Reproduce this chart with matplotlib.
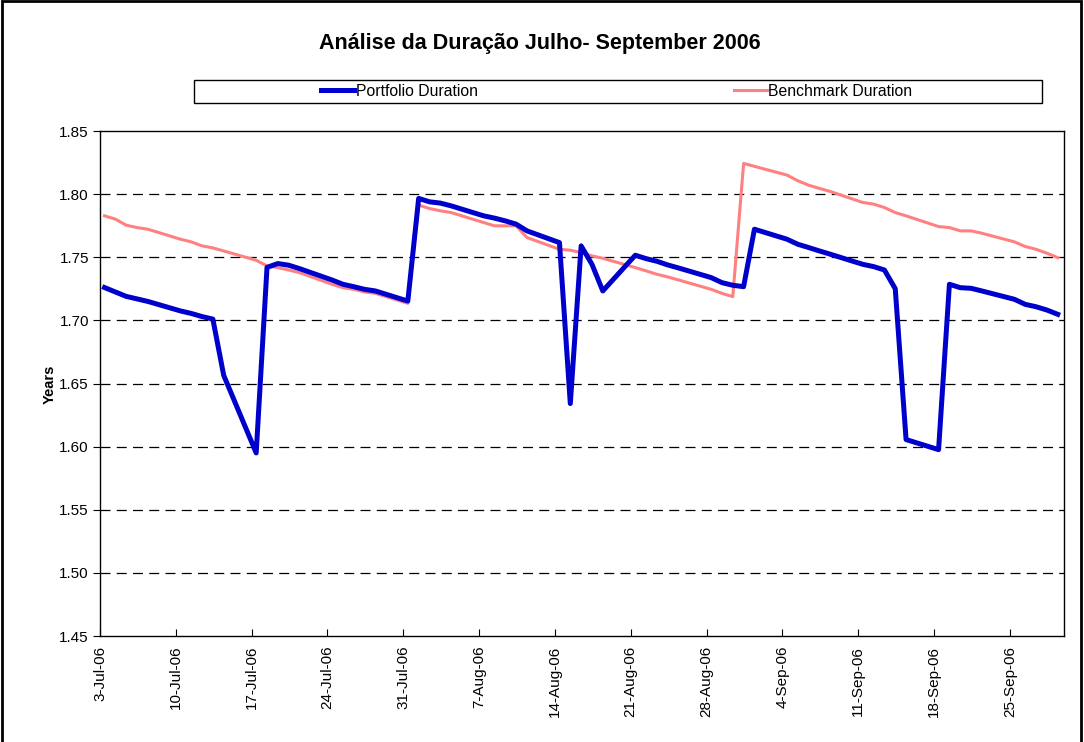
import matplotlib
matplotlib.use('Agg')
import matplotlib.pyplot as plt
import matplotlib.dates as mdates
import numpy as np
import pandas as pd
from matplotlib.patches import Rectangle
from matplotlib.ticker import FixedLocator, FuncFormatter

# business days, 3-Jul-06 .. 29-Sep-06 (one row per week)
dates = pd.bdate_range('2006-07-03', '2006-09-29')

portfolio = [
    1.726, 1.7225, 1.719, 1.717, 1.715,
    1.7075, 1.7055, 1.703, 1.701, 1.6565,
    1.595, 1.742, 1.745, 1.7437, 1.741,
    1.732, 1.7286, 1.7267, 1.7246, 1.7233,
    1.7153, 1.7966, 1.7939, 1.7929, 1.7907,
    1.7828, 1.781, 1.7788, 1.7762, 1.7709,
    1.7616, 1.6341, 1.759, 1.7444, 1.7233,
    1.7516, 1.7489, 1.7468, 1.7439, 1.7415,
    1.7339, 1.7299, 1.7278, 1.7267, 1.7722,
    1.7643, 1.7603, 1.7577, 1.755, 1.7524,
    1.7444, 1.7426, 1.7399, 1.7251, 1.6056,
    1.5976, 1.7286, 1.7259, 1.7254, 1.7233,
    1.7167, 1.7127, 1.7108, 1.7082, 1.7048,
]
benchmark = [
    1.7828, 1.7802, 1.7754, 1.7735, 1.7722,
    1.7643, 1.7622, 1.759, 1.7574, 1.755,
    1.7476, 1.7431, 1.7418, 1.7399, 1.7378,
    1.7286, 1.7259, 1.7246, 1.7225, 1.7214,
    1.7135, 1.7913, 1.7886, 1.7868, 1.7854,
    1.7775, 1.7749, 1.7749, 1.7749, 1.7656,
    1.7563, 1.7556, 1.7537, 1.7511, 1.7492,
    1.7418, 1.7392, 1.7365, 1.7344, 1.732,
    1.7246, 1.7214, 1.7188, 1.8243, 1.822,
    1.8151, 1.8106, 1.8071, 1.8045, 1.8021,
    1.7934, 1.7921, 1.7894, 1.7854, 1.7828,
    1.7743, 1.7735, 1.7709, 1.7709, 1.769,
    1.7622, 1.7585, 1.7563, 1.7532, 1.7497,
]
tickDates = pd.date_range('2006-07-03', '2006-09-25', freq='7D')
yTicks = [1.45, 1.50, 1.55, 1.60, 1.65, 1.70, 1.75, 1.80, 1.85]

plt.rcParams['font.family'] = ['Liberation Sans', 'DejaVu Sans']

fig = plt.figure(figsize=(10.84, 7.42), dpi=100)
ax = fig.add_axes([100/1084, 1 - 636/742, 964/1084, 505/742])

# Excel puts each point a little inside its day slot
x = mdates.date2num(dates.to_pydatetime()) + 0.42
ax.plot(x, benchmark, color='#FF8080', lw=2.2, solid_joinstyle='round', label='Benchmark Duration', zorder=3)
ax.plot(x, portfolio, color='#0000CC', lw=3.6, solid_joinstyle='round', label='Portfolio Duration', zorder=4)

ax.set_xlim(mdates.date2num(pd.Timestamp('2006-07-03')), mdates.date2num(pd.Timestamp('2006-09-30')))
ax.set_ylim(1.45, 1.85)
ax.xaxis.set_major_locator(FixedLocator(mdates.date2num(tickDates.to_pydatetime())))
ax.xaxis.set_major_formatter(FuncFormatter(lambda v, p: f"{mdates.num2date(v).day}-{mdates.num2date(v).strftime('%b-%y')}"))
ax.set_yticks(yTicks)
ax.yaxis.set_major_formatter(FuncFormatter(lambda v, p: f'{v:.2f}'))
ax.tick_params(axis='x', direction='in', length=5, labelsize=11, labelrotation=90, pad=7, color='black')
ax.tick_params(axis='y', direction='out', length=5, labelsize=11, pad=3, color='black')

for yv in yTicks[1:-1]:
    ax.axhline(yv, color='black', lw=0.9, dashes=(8, 5), zorder=1)

for s in ax.spines.values():
    s.set_color('black')
    s.set_linewidth(1)

fig.text(50/1084, 1 - 384/742, 'Years', rotation=90, fontsize=10.5, fontweight='bold', ha='center', va='center')
fig.text(540/1084, 1 - 44/742, 'Análise da Duração Julho- September 2006', fontsize=15.5, fontweight='bold', ha='center', va='center')

# legend box
fig.patches.append(Rectangle((194/1084, 1 - 103/742), 848/1084, 23/742, transform=fig.transFigure,
                             fill=False, edgecolor='black', lw=1))
h, l = ax.get_legend_handles_labels()
leg = fig.legend(h[::-1], l[::-1], ncol=2, loc='center', bbox_to_anchor=(617/1084, 1 - 91/742),
                 frameon=False, fontsize=11.3, handlelength=2.1, handletextpad=0.1, columnspacing=16.3)

# outer chart border
fig.patches.append(Rectangle((2/1084, -0.05), 1079/1084, 1.05 - 1.5/742, transform=fig.transFigure,
                             fill=False, edgecolor='black', lw=2))

plt.savefig('out.png', dpi=100)
